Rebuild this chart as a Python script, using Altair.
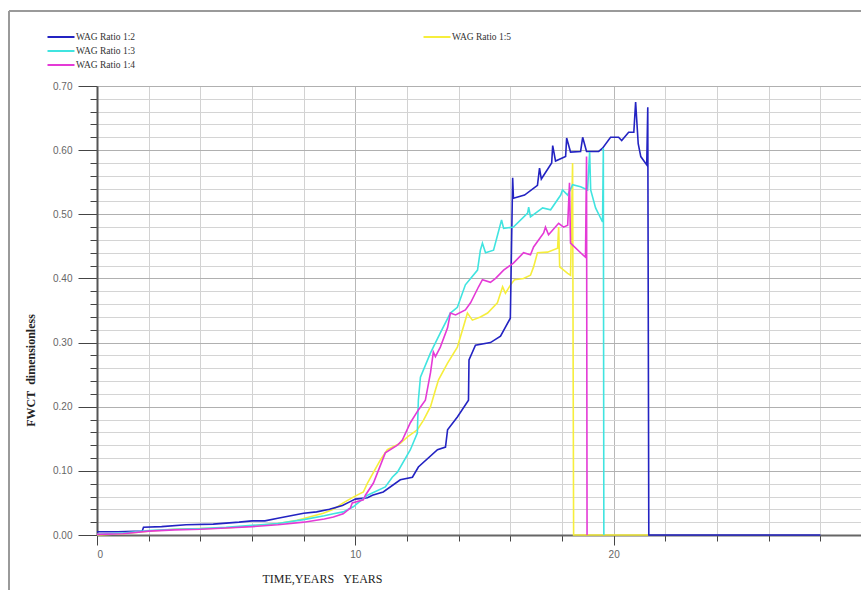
import altair as alt
import pandas as pd

# ---- data (time in years, FWCT dimensionless) ----
t_12 = [0, 0.8, 1.75, 1.8, 2.5, 3.45, 4.5, 5.5, 6.0, 6.5, 7.0, 7.5, 8.0, 8.5, 9.0, 9.5, 9.8, 10.0,
        10.47, 10.66, 11.08, 11.74, 12.21, 12.44, 13.18, 13.49, 13.57, 13.95, 14.38, 14.4, 14.65,
        15.23, 15.62, 16.0, 16.09, 16.12, 16.55, 17.05, 17.13, 17.2, 17.6, 17.64, 17.75, 18.14,
        18.18, 18.33, 18.72, 18.8, 18.95, 19.42, 19.57, 19.88, 20.19, 20.31, 20.58, 20.78, 20.85,
        20.95, 21.05, 21.28, 21.32, 21.36, 28.0]
v_12 = [0.005, 0.005, 0.006, 0.012, 0.013, 0.016, 0.017, 0.020, 0.022, 0.022, 0.026, 0.030, 0.034,
        0.036, 0.040, 0.046, 0.052, 0.056, 0.058, 0.062, 0.067, 0.086, 0.090, 0.106, 0.133, 0.137,
        0.164, 0.184, 0.210, 0.273, 0.296, 0.300, 0.310, 0.338, 0.557, 0.525, 0.530, 0.545, 0.572,
        0.555, 0.580, 0.607, 0.583, 0.590, 0.619, 0.597, 0.598, 0.620, 0.598, 0.598, 0.603, 0.620,
        0.620, 0.615, 0.628, 0.628, 0.675, 0.610, 0.590, 0.577, 0.667, 0.0, 0.0]

t_13 = [0, 1, 2, 3, 4, 5, 6, 7, 8, 8.8, 9.15, 9.53, 9.92, 10.47, 11.16, 11.43, 11.63, 12.13, 12.4,
        12.44, 12.52, 12.91, 13.29, 13.68, 13.95, 14.26, 14.73, 14.84, 14.92, 15.04, 15.35, 15.66,
        15.74, 16.12, 16.67, 16.71, 16.78, 17.25, 17.56, 17.95, 18.02, 18.22, 18.41, 18.72, 18.99,
        19.07, 19.11, 19.3, 19.57, 19.6, 19.62]
v_13 = [0.001, 0.003, 0.007, 0.009, 0.010, 0.012, 0.015, 0.018, 0.024, 0.030, 0.033, 0.036, 0.044,
        0.062, 0.075, 0.090, 0.098, 0.133, 0.159, 0.210, 0.246, 0.284, 0.315, 0.346, 0.355, 0.390,
        0.413, 0.444, 0.455, 0.440, 0.444, 0.491, 0.478, 0.480, 0.502, 0.511, 0.496, 0.510, 0.507,
        0.530, 0.538, 0.530, 0.546, 0.543, 0.538, 0.597, 0.538, 0.510, 0.488, 0.603, 0.0]

t_14 = [0, 1, 2, 3, 4, 5, 6, 7, 8, 8.8, 9.15, 9.53, 9.81, 9.88, 10.31, 10.39, 10.7, 11.16, 11.63,
        11.82, 12.13, 12.44, 12.71, 12.91, 13.02, 13.1, 13.29, 13.57, 13.68, 13.88, 14.26, 14.46,
        14.77, 14.92, 15.23, 15.43, 15.74, 16.12, 16.51, 16.78, 16.9, 17.29, 17.36, 17.48, 17.87,
        18.06, 18.22, 18.29, 18.33, 18.72, 18.91, 18.95, 18.97]
v_14 = [0.001, 0.002, 0.006, 0.008, 0.009, 0.011, 0.013, 0.016, 0.020, 0.025, 0.028, 0.033, 0.042,
        0.050, 0.055, 0.062, 0.081, 0.128, 0.140, 0.148, 0.175, 0.195, 0.210, 0.253, 0.285, 0.278,
        0.293, 0.323, 0.346, 0.343, 0.351, 0.362, 0.387, 0.398, 0.394, 0.400, 0.413, 0.424, 0.440,
        0.437, 0.449, 0.471, 0.480, 0.468, 0.486, 0.480, 0.483, 0.549, 0.455, 0.440, 0.433, 0.590,
        0.0]

t_15 = [0, 1, 2, 3, 4, 5, 6, 7, 7.75, 8.76, 9.15, 9.53, 9.92, 10.31, 10.47, 10.97, 11.24, 11.74,
        12.02, 12.4, 12.64, 12.91, 13.1, 13.22, 13.57, 13.95, 14.15, 14.34, 14.53, 14.84, 15.12,
        15.5, 15.7, 15.81, 16.01, 16.16, 16.51, 16.78, 16.9, 17.05, 17.44, 17.83, 17.87, 17.91,
        18.22, 18.33, 18.41, 18.45, 21.36]
v_15 = [0.0, 0.002, 0.006, 0.009, 0.010, 0.011, 0.014, 0.018, 0.023, 0.034, 0.040, 0.050, 0.059,
        0.067, 0.081, 0.117, 0.133, 0.143, 0.153, 0.164, 0.179, 0.200, 0.226, 0.242, 0.268, 0.293,
        0.320, 0.346, 0.335, 0.340, 0.346, 0.362, 0.387, 0.377, 0.390, 0.398, 0.400, 0.405, 0.418,
        0.440, 0.441, 0.447, 0.480, 0.418, 0.408, 0.405, 0.580, 0.0, 0.0]

main_names = ["WAG Ratio 1:2", "WAG Ratio 1:3", "WAG Ratio 1:4"]
main_colors = ["#2323c2", "#40e4e0", "#e43ad6"]
yellow_names = ["WAG Ratio 1:5"]
yellow_colors = ["#f6ee3c"]

x_ticks = list(range(0, 31, 2))
y_ticks = [round(i * 0.02, 2) for i in range(36)]


def frame(name, ts, vs):
    return pd.DataFrame({"series": name, "t": ts, "v": vs, "order": list(range(len(ts)))})


df_main = pd.concat([frame(main_names[0], t_12, v_12),
                     frame(main_names[1], t_13, v_13),
                     frame(main_names[2], t_14, v_14)], ignore_index=True)
df_yel = frame(yellow_names[0], t_15, v_15)

is_major_y = "abs(round(datum.value*10) - datum.value*10) < 0.001"
is_major_x = "datum.value % 10 == 0"

x_enc = alt.X(
    "t:Q",
    scale=alt.Scale(domain=[0, 30], range=[0, 775], nice=False, zero=False),
    axis=alt.Axis(
        values=x_ticks,
        title="TIME,YEARS\u00a0\u00a0\u00a0YEARS",
        titleFont="Liberation Serif", titleFontSize=12, titleFontWeight="normal",
        titleColor="#222", titleX=225, titleY=43, titleBaseline="middle",
        labelExpr=f"{is_major_x} ? datum.label : ''",
        labelFont="Liberation Sans", labelFontSize=10, labelColor="#666",
        labelPadding=4, labelOverlap=False,
        tickSize={"condition": {"test": is_major_x, "value": 10}, "value": 6},
        tickColor="#444", domainColor="#666", domainWidth=2,
        grid=True,
        gridColor={"condition": {"test": is_major_x, "value": "#b8b8b8"}, "value": "#d2d2d2"},
        gridWidth=1,
    ),
)
y_enc = alt.Y(
    "v:Q",
    scale=alt.Scale(domain=[0, 0.7], nice=False),
    axis=alt.Axis(
        values=y_ticks,
        title="FWCT\u00a0\u00a0dimensionless",
        titleFont="Liberation Serif", titleFontSize=12, titleFontWeight="bold",
        titleColor="#222", titleX=-67, titleY=284, titleBaseline="middle",
        labelExpr=f"{is_major_y} ? format(datum.value, '.2f') : ''",
        labelFont="Liberation Sans", labelFontSize=10, labelColor="#666",
        labelPadding=6, labelOverlap=False,
        tickSize={"condition": {"test": is_major_y, "value": 19}, "value": 7},
        tickColor="#444", domainColor="#555", domainWidth=2,
        grid=True,
        gridColor={"condition": {"test": is_major_y, "value": "#b0b0b0"}, "value": "#d4d4d4"},
        gridWidth=1,
    ),
)

legend_common = dict(
    orient="none", title=None, direction="vertical",
    symbolType="M-2.7,0L2.7,0", symbolSize=100, symbolStrokeWidth=2,
    labelFont="Liberation Serif", labelFontSize=9.5, labelColor="#333",
    labelOffset=9, rowPadding=3, padding=0,
)

yellow = alt.Chart(df_yel).mark_line(strokeWidth=1.6).encode(
    x=x_enc, y=y_enc, order="order:Q",
    color=alt.Color("series:N",
                    scale=alt.Scale(domain=yellow_names, range=yellow_colors),
                    legend=alt.Legend(legendX=334, legendY=-55, **legend_common)),
)

main = alt.Chart(df_main).mark_line(strokeWidth=1.6).encode(
    x=x_enc, y=y_enc, order="order:Q",
    color=alt.Color("series:N",
                    scale=alt.Scale(domain=main_names, range=main_colors),
                    sort=main_names,
                    legend=alt.Legend(legendX=-42, legendY=-55, **legend_common)),
)

# outer frame of the original figure (decoration)
frame_top = alt.Chart(pd.DataFrame({"a": [0]})).mark_rule(color="#9a9a9a", strokeWidth=2).encode(
    x=alt.value(-88), x2=alt.value(764), y=alt.value(-75))
frame_left = alt.Chart(pd.DataFrame({"a": [0]})).mark_rule(color="#9a9a9a", strokeWidth=2).encode(
    x=alt.value(-88), y=alt.value(-75), y2=alt.value(504))

chart = alt.layer(frame_top, frame_left, yellow, main).resolve_scale(
    color="independent"
).properties(
    width=764, height=449,
    padding={"left": 97, "top": 86, "right": 0, "bottom": 55},
    autosize=alt.AutoSizeParams(type="none"),
    background="white",
).configure_view(stroke=None)

chart.save("out.html", embed_options={"renderer": "svg", "actions": False})
